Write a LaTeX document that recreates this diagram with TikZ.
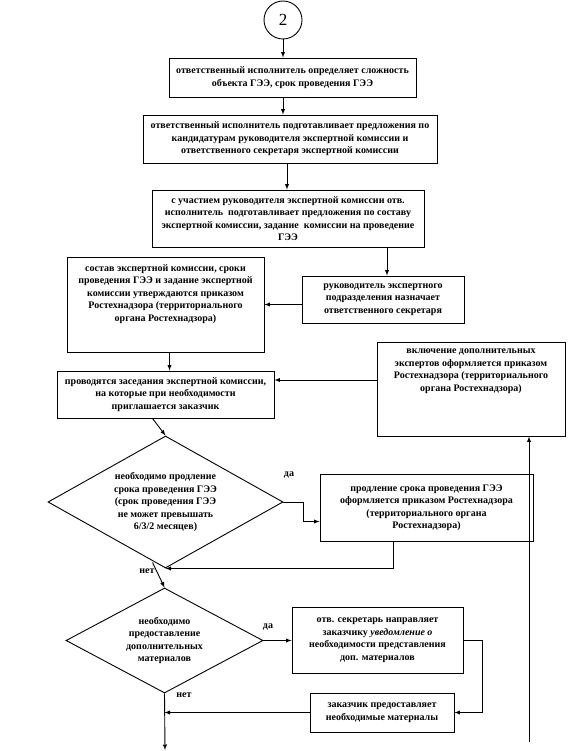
\documentclass[tikz,border=0pt]{standalone}
\usepackage{fontspec}
\setmainfont{Liberation Serif}
\usetikzlibrary{arrows}
\usetikzlibrary{shapes.geometric}
\usetikzlibrary{calc}

\begin{document}
\begin{tikzpicture}[x=1pt, y=-1pt,
  box/.style={draw, line width=0.9pt, align=center, inner sep=2pt,
    font=\bfseries\fontsize{10}{12.5}\selectfont},
  rhomb/.style={draw, diamond, line width=0.9pt, align=center, inner sep=0pt,
    font=\bfseries\fontsize{10}{12.5}\selectfont},
  lbl/.style={font=\bfseries\fontsize{10}{12}\selectfont},
  arr/.style={-latex, line width=0.9pt}]
\useasboundingbox (0,0) rectangle (567,751);

\node[draw, circle, minimum size=38pt, line width=0.9pt, font=\fontsize{17}{19}\selectfont] (c2) at (283,20) {2};

\node[box, minimum width=247pt, minimum height=39pt] (b1) at (292.5,77.5)
  {ответственный исполнитель определяет сложность\\объекта ГЭЭ, срок проведения ГЭЭ};
\node[box, minimum width=294pt, minimum height=48pt] (b2) at (290,139)
  {ответственный исполнитель подготавливает предложения по\\кандидатурам руководителя экспертной комиссии и\\ответственного секретаря экспертной комиссии};
\node[box, minimum width=272pt, minimum height=57pt] (b3) at (288,218.5)
  {с участием руководителя экспертной комиссии отв.\\исполнитель\ \ подготавливает предложения по составу\\экспертной комиссии, задание\ \ комиссии на проведение\\ГЭЭ};
\node[box, minimum width=197pt, minimum height=95pt] (b4) at (165.5,304.5)
  {\parbox[c][80pt][t]{190pt}{\centering состав экспертной комиссии, сроки\\проведения ГЭЭ и задание экспертной\\комиссии утверждаются приказом\\Ростехнадзора (территориального\\органа Ростехнадзора)}};
\node[box, minimum width=162pt, minimum height=47pt] (b5) at (383,299.5)
  {руководитель экспертного\\подразделения назначает\\ответственного секретаря};
\node[box, minimum width=217pt, minimum height=47pt] (b6) at (165.5,394.5)
  {проводятся заседания экспертной комиссии,\\на которые при необходимости\\приглашается заказчик};
\node[box, minimum width=188pt, minimum height=94pt] (b7) at (471,389)
  {\parbox[c][80pt][t]{182pt}{\centering включение дополнительных\\экспертов оформляется приказом\\Ростехнадзора (территориального\\органа Ростехнадзора)}};

\node[rhomb, aspect=1.78, minimum width=235pt, minimum height=132pt] (d1) at (165.5,502)
  {необходимо продление\\срока проведения ГЭЭ\\(срок проведения ГЭЭ\\не может превышать\\6/3/2 месяцев)};
\node[box, minimum width=213pt, minimum height=67pt] (b8) at (426.5,507.5)
  {продление срока проведения ГЭЭ\\оформляется приказом Ростехнадзора\\(территориального органа\\Ростехнадзора)};
\node[rhomb, aspect=1.88, minimum width=197pt, minimum height=105pt] (d2) at (164.5,640.5)
  {необходимо\\предоставление\\дополнительных\\материалов};
\node[box, minimum width=171pt, minimum height=66pt] (b9) at (377.5,640)
  {отв. секретарь направляет\\заказчику \textit{уведомление о}\\необходимости представления\\доп. материалов};
\node[box, minimum width=144pt, minimum height=39pt] (b10) at (382,712.5)
  {заказчик предоставляет\\необходимые материалы};

\node[lbl] (yes1) at (289,475) {да};
\node[lbl] (no1) at (147,571) {нет};
\node[lbl] (yes2) at (268,627) {да};
\node[lbl] (no2) at (184,695) {нет};

\coordinate (out) at (165,750);
\coordinate (back) at (529,742);

\draw[arr] (c2.south) -- (c2.south |- b1.north);
\draw[arr] (c2.south |- b1.south) -- (c2.south |- b2.north);
\draw[arr] ([xshift=-3pt]b2.south) -- ([xshift=-3pt]b2.south |- b3.north);
\draw[arr] ([xshift=4pt]b5.north |- b3.south) -- ([xshift=4pt]b5.north);
\draw[arr] ([yshift=-5pt]b5.west) -- ([yshift=-5pt]b5.west -| b4.east);
\draw[arr] ([xshift=4pt]b4.south) -- ([xshift=4pt]b4.south |- b6.north);
\draw[arr] ([yshift=9pt]b7.west) -- ([yshift=9pt]b7.west -| b6.east);
\draw[arr] ([xshift=-13pt]b6.south) -- (d1.north);
\draw[arr] (d1.east) -- ++(20,0) |- ([yshift=-14pt]b8.west);
\draw[arr] ([xshift=-33pt]b8.south) |- (d1.south);
\draw[arr] ($(d1.south)+(-13,-6)$) -- (d2.north);
\draw[arr] (d2.east) -- (d2.east -| b9.west);
\draw[arr] (b9.east) -- ++(19,0) |- (b10.east);
\draw[arr] (b10.west) -- (b10.west -| d2.south);
\draw[arr] (d2.south) -- (out);
\draw[arr] (back) -- (back |- b7.south);
\end{tikzpicture}
\end{document}
